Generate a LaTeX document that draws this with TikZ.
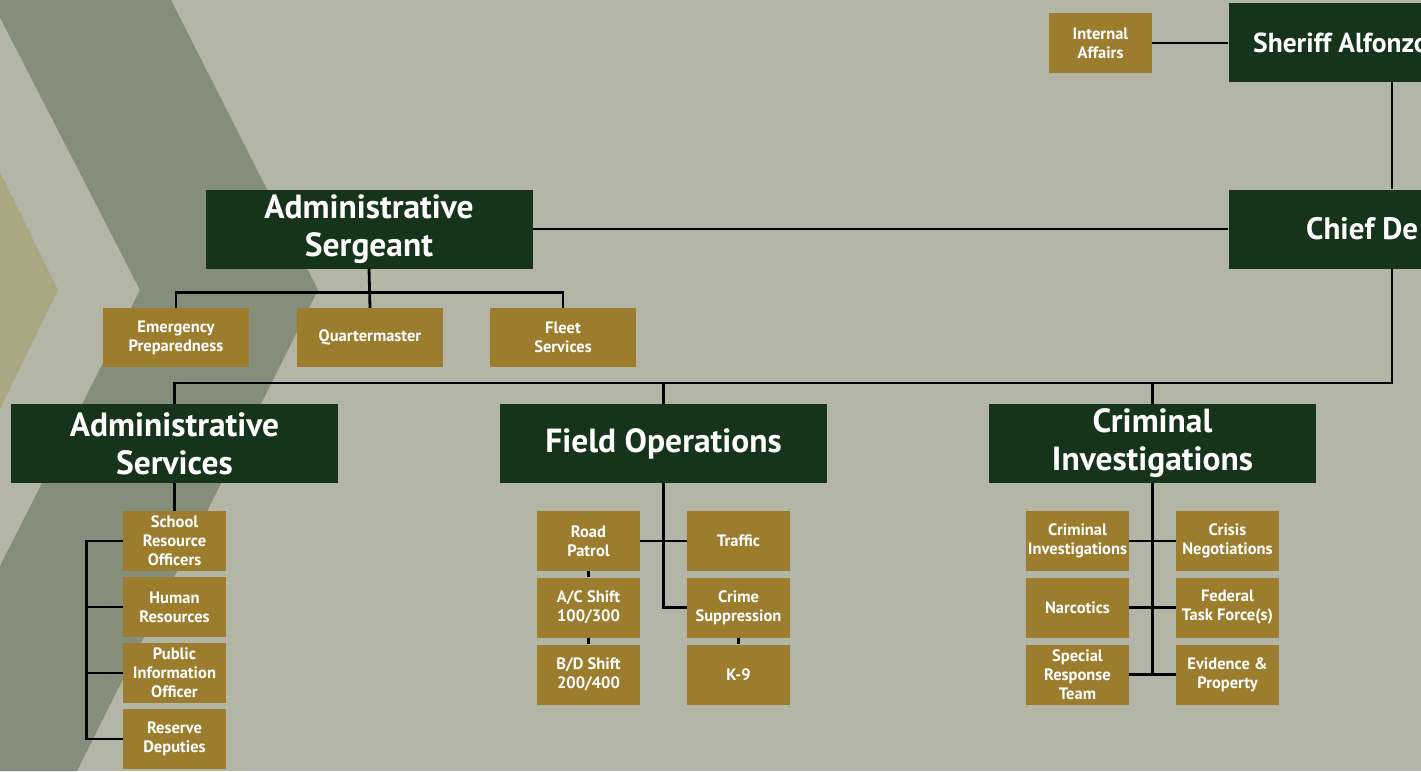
\documentclass[tikz,border=0pt]{standalone}
\usepackage{fontspec}
\setmainfont{PT Sans}
\definecolor{paper}{HTML}{B3B5A6}
\definecolor{band}{HTML}{848E7B}
\definecolor{sand}{HTML}{ACA783}
\definecolor{deptgreen}{HTML}{16341A}
\definecolor{unitgold}{HTML}{9C7D2E}
\begin{document}
\begin{tikzpicture}[x=1pt, y=-1pt,
	head/.style={fill=deptgreen, text=white, font=\bfseries\fontsize{33.5}{38}\selectfont,
		align=center, minimum width=327pt, minimum height=79pt, inner sep=0pt},
	headtxt/.style={text=white, inner sep=0pt, anchor=west},
	unit/.style={fill=unitgold, text=white, font=\bfseries\fontsize{16.5}{19}\selectfont,
		align=center, minimum width=103pt, minimum height=60pt, inner sep=0pt},
	wide/.style={unit, minimum width=146pt, minimum height=59pt},
	link/.style={line width=2.8pt, black}]
	\useasboundingbox (0, 0) rectangle (1421, 771);
	\clip (0, 0) rectangle (1421, 771);
	\fill[paper] (0, 0) rectangle (1421, 771);
	\fill[band] (-9, 0) -- (171, 0) -- (318, 290) -- (77, 771) -- (0, 771) -- (0, 566) -- (140, 290) -- cycle;
	\fill[sand] (0, 172) -- (58, 290) -- (0, 409) -- cycle;
	
	% top of the chart
	\node[head] (sheriff) at (1392, 42.5) {};
	\node[headtxt, font=\bfseries\fontsize{27.5}{32}\selectfont] (sherifftxt) at (1253, 42.5) {Sheriff Alfonzo};
	\node[unit] (ia) at (1100.5, 43) {Internal\\Affairs};
	\node[head] (chief) at (1392, 229) {};
	\node[headtxt, font=\bfseries\fontsize{31}{35}\selectfont] (chieftxt) at (1306, 229) {Chief De};
	\node[head] (sgt) at (369, 229) {Administrative\\Sergeant};
	
	\node[wide] (emerg) at (176, 337.5) {Emergency\\Preparedness};
	\node[wide] (qm) at (370, 337.5) {Quartermaster};
	\node[wide] (fleet) at (563, 337.5) {Fleet\\Services};
	
	% divisions
	\node[head] (adsvc) at (174.5, 443.5) {Administrative\\Services};
	\node[head] (fieldops) at (663.5, 443.5) {Field Operations};
	\node[head] (crim) at (1152.5, 443.5) {Criminal\\Investigations};
	
	\node[unit] (sro) at (174.5, 541) {School\\Resource\\Officers};
	\node[unit] (hr) at (174.5, 607) {Human\\Resources};
	\node[unit] (pio) at (174.5, 673) {Public\\Information\\Officer};
	\node[unit] (rsv) at (174.5, 739) {Reserve\\Deputies};
	
	\node[unit] (road) at (588.5, 541) {Road\\Patrol};
	\node[unit] (acshift) at (588.5, 607.5) {A/C Shift\\100/300};
	\node[unit] (bdshift) at (588.5, 674.5) {B/D Shift\\200/400};
	\node[unit] (traffic) at (738.5, 541) {Traffic};
	\node[unit] (crimesup) at (738.5, 607.5) {Crime\\Suppression};
	\node[unit] (k9) at (738.5, 674.5) {K-9};
	
	\node[unit] (cinv) at (1077.5, 541) {Criminal\\Investigations};
	\node[unit] (narc) at (1077.5, 607.5) {Narcotics};
	\node[unit] (srt) at (1077.5, 674.5) {Special\\Response\\Team};
	\node[unit] (crisis) at (1227.5, 541) {Crisis\\Negotiations};
	\node[unit] (fed) at (1227.5, 607.5) {Federal\\Task Force(s)};
	\node[unit] (evid) at (1227.5, 674.5) {Evidence \&\\Property};
	
	% connectors
	\draw[link] (ia.east) -- (ia.east -| sheriff.west);
	\draw[link] (sheriff.south) -- (chief.north);
	\draw[link] (sgt.east) -- (chief.west);
	\draw[link] (sgt.south) -- (qm.north);
	\draw[link] (emerg.north) -- ++(0, -15) -| (fleet.north);
	
	\coordinate (mainbus) at (1392, 383);
	\draw[link] (chief.south) -- (mainbus) -| (adsvc.north);
	\draw[link] (fieldops.north) -- (fieldops.north |- mainbus);
	\draw[link] (crim.north) -- (crim.north |- mainbus);
	
	\draw[link] (adsvc.south) -- (sro.north);
	\draw[link] (sro.west) -- ++(-36, 0) |- (rsv.west);
	\foreach \n in {hr, pio} {
		\draw[link] (\n.west) -- ++(-36, 0);
	}
	
	\draw[link] (fieldops.south) |- (crimesup.west);
	\draw[link] (road.east) -- (traffic.west);
	\draw[link] (road.south) -- (acshift.north);
	\draw[link] (acshift.south) -- (bdshift.north);
	\draw[link] (crimesup.south) -- (k9.north);
	
	\draw[link] (crim.south) -- (crim.south |- srt.east);
	\foreach \a/\b in {cinv/crisis, narc/fed, srt/evid} {
		\draw[link] (\a.east) -- (\b.west);
	}
\end{tikzpicture}
\end{document}
